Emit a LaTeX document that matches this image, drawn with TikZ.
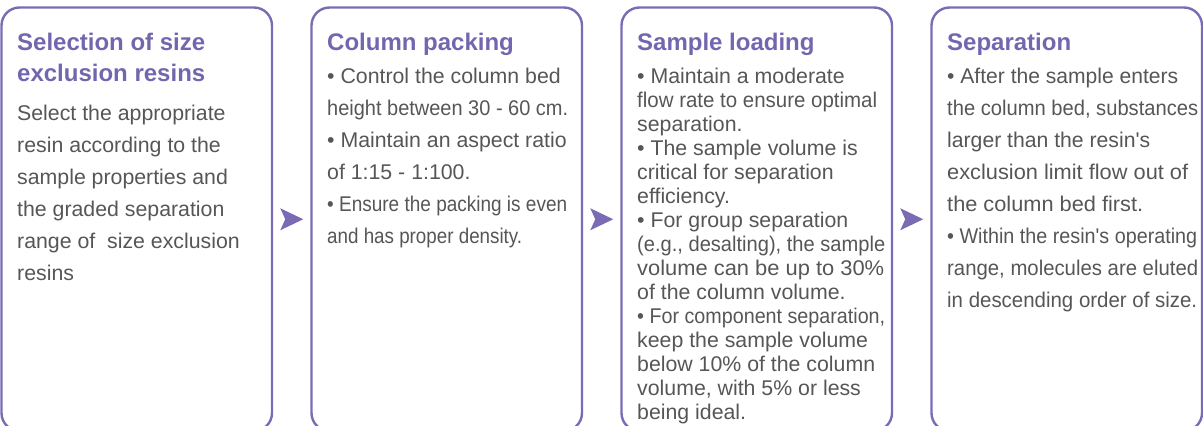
\documentclass[tikz,border=0pt]{standalone}
\usepackage{fontspec}
\setmainfont{Liberation Sans}[Ligatures=TeXOff]
\usetikzlibrary{calc}
\definecolor{frame}{HTML}{7A6BB4}
\definecolor{ttl}{HTML}{7366AF}
\definecolor{txt}{HTML}{565656}
\newcommand\fitto[2]{\ifdim#1pt>0pt\resizebox{#1pt}{\height}{#2}\else#2\fi}
\tikzset{
  stepbox/.style={draw=frame, line width=2.4pt, rounded corners=18pt, minimum width=270.5pt, minimum height=423.5pt, inner sep=0pt},
  ttlline/.style={anchor=base west, inner sep=0pt, text=ttl, font=\fontsize{24}{28}\selectfont\bfseries},
  bodyline/.style={anchor=base west, inner sep=0pt, text=txt, font=\fontsize{21.3}{25}\selectfont},
  flowarrow/.style={fill=frame, draw=none}
}
\begin{document}
\begin{tikzpicture}[x=1pt, y=-1pt]
\useasboundingbox (0,0) rectangle (1203,426);
% boxes
\node[stepbox] (box1) at (136.75,219.25) {};
\node[stepbox] (box2) at (446.75,219.25) {};
\node[stepbox] (box3) at (756.75,219.25) {};
\node[stepbox] (box4) at (1066.75,219.25) {};
% arrows between boxes
\foreach \a/\b/\n in {box1/box2/1, box2/box3/2, box3/box4/3}{
  \coordinate (m\n) at ($(\a.east)!0.5!(\b.west)$);
  \fill[flowarrow] ([shift={(-11.5,-11)}]m\n) -- ([shift={(11.5,0)}]m\n) -- ([shift={(-11.5,11)}]m\n) -- ([shift={(-6.5,0)}]m\n) -- cycle;
}
% box 1
\node[ttlline] (t1a) at (17,50) {Selection of size};
\node[ttlline] (t1b) at (17,81) {exclusion resins};
\foreach \txt [count=\i from 0] in {Select the appropriate, resin according to the, sample properties and, the graded separation, range of \ size exclusion, resins}
  \node[bodyline] (b1-\i) at (17,{120+32*\i}) {\txt};
% box 2
\node[ttlline] (t2) at (327,50) {Column packing};
\foreach \w/\txt [count=\i from 0] in {0/• Control the column bed, 241/height between 30 - 60 cm., 0/• Maintain an aspect ratio, 0/of 1:15 - 1:100., 240/• Ensure the packing is even, 195/and has proper density.}
  \node[bodyline] (b2-\i) at (327,{83.5+32*\i}) {\fitto{\w}{\txt}};
% box 3
\node[ttlline] (t3) at (637,50) {Sample loading};
\foreach \w/\txt [count=\i from 0] in {0/• Maintain a moderate, 240/flow rate to ensure optimal, 0/separation., 0/• The sample volume is, 0/critical for separation, 0/efficiency., 0/• For group separation, {248/(e.g., desalting), the sample}, 247/volume can be up to 30\%, 0/of the column volume., {248/• For component separation,}, 0/keep the sample volume, 0/below 10\% of the column, {0/volume, with 5\% or less}, 0/being ideal.}
  \node[bodyline] (b3-\i) at (637,{83.5+24*\i}) {\fitto{\w}{\txt}};
% box 4
\node[ttlline] (t4) at (947,50) {Separation};
\foreach \w/\txt [count=\i from 0] in {231/• After the sample enters, {251/the column bed, substances}, 203/larger than the resin's, 241/exclusion limit flow out of, 196/the column bed first., 250/• Within the resin's operating, {251/range, molecules are eluted}, 250/in descending order of size.}
  \node[bodyline] (b4-\i) at (947,{83.5+32*\i}) {\fitto{\w}{\txt}};
\end{tikzpicture}
\end{document}
